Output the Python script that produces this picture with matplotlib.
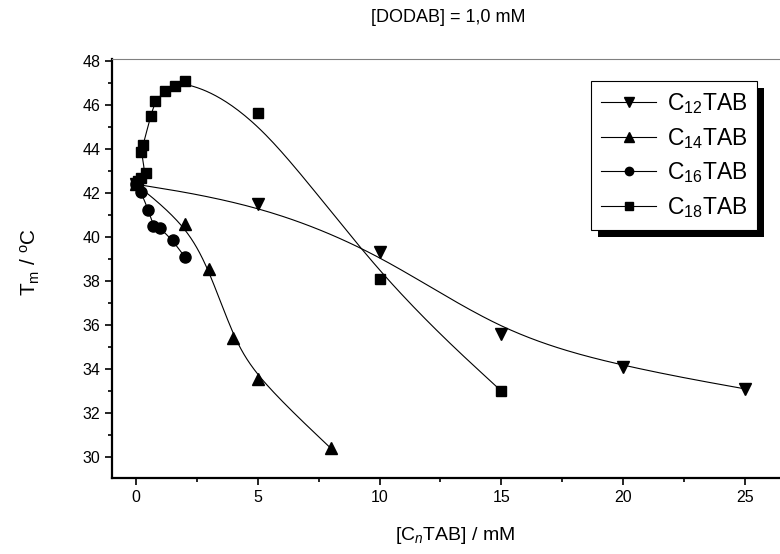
import numpy as np
import matplotlib
matplotlib.use("Agg")
from matplotlib import pyplot as plt
from matplotlib.patches import Rectangle
from matplotlib.ticker import MultipleLocator

plt.rcParams['font.family'] = ['Liberation Sans', 'DejaVu Sans']
plt.rcParams['mathtext.fontset'] = 'custom'
plt.rcParams['mathtext.rm'] = 'Liberation Sans'
plt.rcParams['mathtext.it'] = 'Liberation Sans:italic'
plt.rcParams['mathtext.default'] = 'regular'

# data
c12_x = [0, 5, 10, 15, 20, 25]
c12_y = [42.4, 41.5, 39.3, 35.6, 34.1, 33.1]

c14_x = [0, 2, 3, 4, 5, 8]
c14_y = [42.4, 40.6, 38.55, 35.4, 33.55, 30.4]

c16_x = [0, 0.2, 0.5, 0.7, 1.0, 1.5, 2.0]
c16_y = [42.4, 42.05, 41.25, 40.5, 40.4, 39.85, 39.1]

c18_x = [0, 0.1, 0.2, 0.4, 0.2, 0.3, 0.6, 0.8, 1.2, 1.6, 2.0, 5, 10, 15]
c18_y = [42.4, 42.55, 42.7, 42.9, 43.85, 44.2, 45.5, 46.2, 46.65, 46.85, 47.1, 45.65, 38.1, 33.0]

labels = ["C$_{12}$TAB", "C$_{14}$TAB", "C$_{16}$TAB", "C$_{18}$TAB"]
markers = ["v", "^", "o", "s"]
msizes = [9, 9, 8, 7.3]


def bspline(x, y, n=40):
    # clamped uniform cubic B-spline using the data as control points
    px = np.r_[x[0], x[0], x, x[-1], x[-1]]
    py = np.r_[y[0], y[0], y, y[-1], y[-1]]
    t = np.linspace(0, 1, n)
    b0 = (1 - t) ** 3 / 6
    b1 = (3 * t**3 - 6 * t**2 + 4) / 6
    b2 = (-3 * t**3 + 3 * t**2 + 3 * t + 1) / 6
    b3 = t**3 / 6
    xs, ys = [], []
    for i in range(len(px) - 3):
        xs.append(b0 * px[i] + b1 * px[i + 1] + b2 * px[i + 2] + b3 * px[i + 3])
        ys.append(b0 * py[i] + b1 * py[i + 1] + b2 * py[i + 2] + b3 * py[i + 3])
    return np.concatenate(xs), np.concatenate(ys)


fig = plt.figure(figsize=(7.8, 5.54), dpi=100)
ax = fig.add_axes([112 / 780, 1 - 478 / 554, 1 - 112 / 780, (478 - 59) / 554])

series = [(c12_x, c12_y), (c14_x, c14_y), (c16_x, c16_y), (c18_x, c18_y)]
handles = []
for (xs, ys), lab, mk, ms in zip(series, labels, markers, msizes):
    sx, sy = bspline(np.array(xs, float), np.array(ys, float))
    ax.plot(sx, sy, color='black', lw=0.8)
    ax.plot(xs, ys, linestyle='none', marker=mk, ms=ms, color='black')
    h, = ax.plot([], [], color='black', lw=0.8, marker=mk, ms=ms * 0.75)
    handles.append(h)

ax.set_xlim(-0.985, 26.44)
ax.set_ylim(29.05, 48.09)
ax.xaxis.set_major_locator(MultipleLocator(5))
ax.xaxis.set_minor_locator(MultipleLocator(2.5))
ax.yaxis.set_major_locator(MultipleLocator(2))
ax.yaxis.set_minor_locator(MultipleLocator(1))
ax.tick_params(which='both', direction='out', width=1.2, labelsize=11.5)
ax.tick_params(which='major', length=5)
ax.tick_params(which='minor', length=3)
ax.spines['left'].set_linewidth(1.6)
ax.spines['bottom'].set_linewidth(1.6)
ax.spines['top'].set_color('gray')
ax.spines['top'].set_linewidth(0.8)
ax.spines['right'].set_visible(False)

fig.text(448 / 780, 1 - 18 / 554, "[DODAB] = 1,0 mM", ha='center', va='center', fontsize=13)
fig.text(455 / 780, 1 - 535 / 554, "[C$_{\\mathit{n}}$TAB] / mM", ha='center', va='center', fontsize=14)
fig.text(30 / 780, 1 - 262 / 554, "T$_m$ / $^o$C", ha='center', va='center', rotation=90, fontsize=15)

leg = ax.legend(handles, labels, loc='upper left', bbox_to_anchor=(591 / 780, 1 - 81 / 554),
                bbox_transform=fig.transFigure, borderaxespad=0, fontsize=16.5, frameon=True,
                framealpha=1, fancybox=False, edgecolor='black', handlelength=2.4,
                labelspacing=0.42, handletextpad=0.45, borderpad=0.45)
leg.get_frame().set_linewidth(0.8)
leg.set_zorder(6)

fig.canvas.draw()
bb = leg.get_window_extent().transformed(fig.transFigure.inverted())
off_x, off_y = 7 / 780, 7 / 554
shadow = Rectangle((bb.x0 + off_x, bb.y0 - off_y), bb.width, bb.height,
                   transform=fig.transFigure, facecolor='black', edgecolor='none',
                   zorder=5, clip_on=False)
ax.add_patch(shadow)

fig.savefig("out.png", dpi=100)
